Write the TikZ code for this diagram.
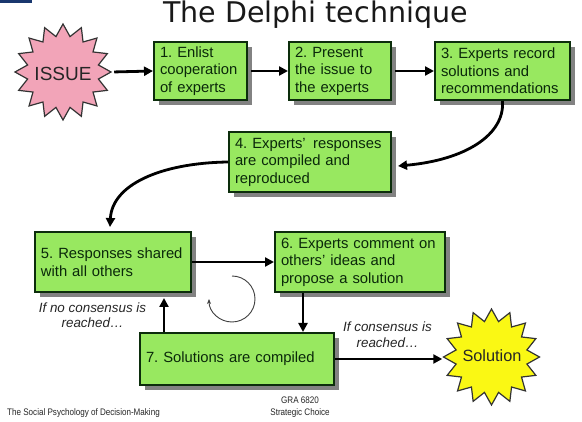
\documentclass[tikz,border=0pt]{standalone}
\usepackage{fontspec}
\setmainfont{Liberation Sans}
\newfontfamily\titlefont{DejaVu Sans}
\newfontfamily\narrowfont[FakeStretch=0.85]{Liberation Sans}
\usetikzlibrary{shapes.geometric,shadows,arrows.meta,calc}
\frenchspacing
\hyphenpenalty=10000
\exhyphenpenalty=10000
\definecolor{boxgreen}{RGB}{152,232,96}
\definecolor{boxline}{RGB}{12,45,12}
\definecolor{boxtext}{RGB}{10,40,10}
\definecolor{shadowgray}{RGB}{130,130,130}
\definecolor{issuepink}{RGB}{242,164,184}
\definecolor{solyellow}{RGB}{250,248,20}
\definecolor{topblue}{RGB}{25,55,110}
\tikzset{
 stepbox/.style={rectangle, draw=boxline, line width=2pt, fill=boxgreen, text=boxtext,
   align=left, inner xsep=6pt, inner ysep=0pt, font=\fontsize{14.8}{17.5}\selectfont,
   drop shadow={shadow xshift=5pt, shadow yshift=-5pt, fill=shadowgray, opacity=1}},
 arr/.style={line width=2.8pt, -{Triangle[length=9pt,width=9pt]}},
 burst/.style={star, star points=16, star point ratio=1.33, minimum size=96pt, inner sep=0pt, line width=1.2pt},
 note/.style={font=\fontsize{13.4}{15}\selectfont\itshape, text=black!85, inner sep=0pt},
 foot/.style={font=\narrowfont\fontsize{9.5}{12}\selectfont, text=black!85, inner sep=0pt},
}
\begin{document}
\begin{tikzpicture}[x=1pt,y=-1pt]
\useasboundingbox (0,0) rectangle (582,422);
\fill[white] (0,0) rectangle (582,422);
\fill[topblue] (0,0) rectangle (32,3);
\node[font=\titlefont\fontsize{28.5}{30}\selectfont, anchor=base, text=black!90, inner sep=0pt] (title) at (315.5,23) {The Delphi technique};

\node[burst, draw=black!80, fill=issuepink] (issue) at (63,72) {};
\node[font=\fontsize{19}{20}\selectfont, text=black!85, anchor=base, inner sep=0pt] (issuelbl) at (63,81) {ISSUE};

\node[stepbox, text width=81pt, minimum height=58pt] (b1) at (200.5,71) {1. Enlist\\cooperation\\of experts};
\node[stepbox, text width=90pt, minimum height=58pt] (b2) at (340,71) {2. Present\\the issue to\\the experts};
\node[stepbox, text width=123pt, minimum height=58pt] (b3) at (502.5,71) {3. Experts record\\solutions and\\recommendations};
\node[stepbox, text width=150pt, minimum height=60pt] (b4) at (310,162) {4. Experts’\hspace{0.5em}responses\\are compiled and\\reproduced};
\node[stepbox, text width=144pt, minimum height=60pt] (b5) at (113,262) {5. Responses shared\\with all others};
\node[stepbox, text width=158pt, minimum height=60pt] (b6) at (360,262) {6. Experts comment on\\others’ ideas and\\propose a solution};
\node[stepbox, text width=182pt, minimum height=52pt] (b7) at (237,359) {7. Solutions are compiled};

\node[burst, draw=black!80, fill=solyellow] (sol) at (491.5,357) {};
\node[font=\fontsize{16.3}{18}\selectfont, text=black!85, anchor=base, inner sep=0pt] (sollbl) at (492,362) {Solution};

\draw[arr, shorten <=2pt] (issue.east) -- (b1.west);
\draw[arr, shorten <=3pt] (b1.east) -- (b2.west);
\draw[arr, shorten <=3pt] (b2.east) -- (b3.west);
\draw[arr] (b3.south) .. controls (505,135) and (465,160) .. ($(b4.east)+(6,4)$);
\draw[arr] (b4.west) .. controls (160,163) and (112,185) .. ($(b5.north)+(-3,-4)$);
\draw[arr] (b5.east) -- (b6.west);
\coordinate (p6) at ($(b6.south west)+(29,0)$);
\draw[arr] (p6) -- (p6 |- b7.north);
\coordinate (p7) at ($(b7.north west)+(25,0)$);
\draw[arr] (p7) -- ($(p7 |- b5.south)+(0,5)$);
\draw[arr] (b7.east) -- (b7.east -| sol.west);

\coordinate (cyc) at (232,276);
\draw[line width=0.9pt, black!75, -{Stealth[length=5pt,width=4pt]}] (cyc) arc[start angle=-90, end angle=180, radius=23];

\node[note, anchor=base] (nc1) at (92.5,313) {If no consensus is};
\node[note, anchor=base] (nc2) at (92.5,328) {reached…};
\node[note, anchor=base] (c1) at (387.5,332) {If consensus is};
\node[note, anchor=base] (c2) at (387.5,348) {reached…};

\node[foot, anchor=base west] (ft) at (7,416) {The Social Psychology of Decision-Making};
\node[foot, anchor=base] (gra) at (300,404) {GRA 6820};
\node[foot, anchor=base] (sc) at (300,416) {Strategic Choice};
\end{tikzpicture}
\end{document}
